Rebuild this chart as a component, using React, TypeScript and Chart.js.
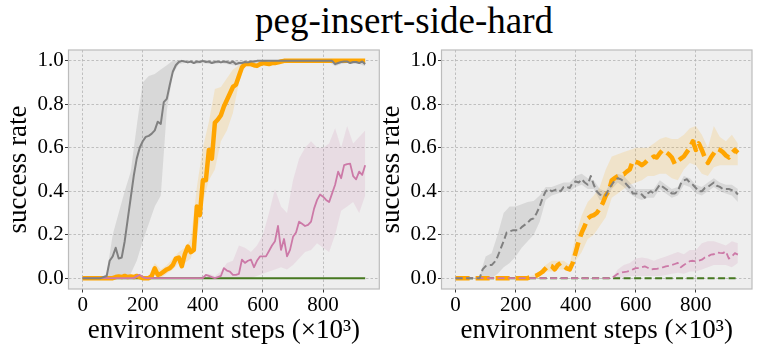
import React, { useEffect, useRef } from 'react';
import Chart from 'chart.js/auto';

// x positions (environment steps, x10^3)
const STEPS = [
  0, 10, 20, 30, 40, 50, 60, 70, 80, 90,
  100, 110, 120, 130, 140, 150, 160, 170, 180, 190,
  200, 210, 220, 230, 240, 250, 260, 270, 280, 290,
  300, 310, 320, 330, 340, 350, 360, 370, 380, 390,
  400, 410, 420, 430, 440, 450, 460, 470, 480, 490,
  500, 510, 520, 530, 540, 550, 560, 570, 580, 590,
  600, 610, 620, 630, 640, 650, 660, 670, 680, 690,
  700, 710, 720, 730, 740, 750, 760, 770, 780, 790,
  800, 810, 820, 830, 840, 850, 860, 870, 880, 890,
  900, 910, 920, 930, 940,
];
const BAND_STEPS = [
  0, 20, 40, 60, 80, 100, 120, 140, 160, 180,
  200, 220, 240, 260, 280, 300, 320, 340, 360, 380,
  400, 420, 440, 460, 480, 500, 520, 540, 560, 580,
  600, 620, 640, 660, 680, 700, 720, 740, 760, 780,
  800, 820, 840, 860, 880, 900, 920, 940,
];
const X_TICKS = [0, 200, 400, 600, 800];
const Y_TICKS = [0, 0.2, 0.4, 0.6, 0.8, 1.0];

// ---- left panel (solid) ----
const GRAY_L = [
  0, 0, 0, 0, 0, 0, 0, 0.005, 0.01, 0.08,
  0.10, 0.14, 0.09, 0.095, 0.17, 0.27, 0.37, 0.47, 0.55, 0.6,
  0.63, 0.65, 0.655, 0.665, 0.68, 0.72, 0.71, 0.81, 0.825, 0.89,
  0.95, 0.98, 0.995, 1.0, 0.997, 0.993, 0.997, 0.99, 0.997, 0.995,
  1.0, 0.995, 0.997, 0.99, 0.995, 0.997, 0.993, 0.997, 0.995, 0.99,
  0.997, 0.985, 0.99, 0.99, 0.995, 0.993, 0.997, 0.997, 1.0, 1.0,
  1, 1, 1, 1, 1, 1, 1, 1, 1, 1,
  1, 1, 1, 1, 1, 1, 1, 1, 1, 1,
  1, 1, 1, 1, 0.985, 0.99, 0.995, 0.997, 0.997, 0.99,
  0.995, 0.995, 0.99, 0.997, 0.985,
];
const ORANGE_L = [
  0, 0, 0, 0, 0, 0, 0, 0, 0, 0,
  0, 0.005, 0.008, 0.005, 0.01, 0.005, 0.008, 0.005, 0.01, 0.005,
  0, 0, 0, 0.01, 0.045, 0.015, 0.02, 0.03, 0.04, 0.046,
  0.06, 0.09, 0.095, 0.055, 0.11, 0.145, 0.12, 0.13, 0.33, 0.29,
  0.45, 0.45, 0.59, 0.55, 0.715, 0.73, 0.75, 0.79, 0.82, 0.85,
  0.88, 0.89, 0.93, 0.97, 0.985, 0.985, 0.985, 0.98, 0.977, 0.985,
  0.99, 0.988, 0.985, 0.99, 0.99, 0.993, 0.997, 1, 1, 1,
  1, 1, 1, 1, 1, 1, 1, 1, 1, 1,
  1, 1, 1, 1, 1, 1, 1, 1, 1, 1,
  1, 1, 1, 1, 1,
];
const PINK_L = [
  0, 0, 0, 0, 0, 0, 0, 0, 0, 0,
  0, 0, 0, 0, 0, 0, 0, 0, 0.008, 0.015,
  0.005, 0, 0, 0, 0, 0, 0, 0, 0, 0,
  0, 0, 0, 0, 0, 0, 0, 0, 0, 0,
  0, 0.015, 0.01, 0.005, 0, 0.005, 0.01, 0.046, 0.035, 0.03,
  0.015, 0.015, 0.02, 0.085, 0.07, 0.08, 0.085, 0.05, 0.08, 0.1,
  0.1, 0.1, 0.125, 0.15, 0.17, 0.24, 0.13, 0.18, 0.1, 0.13,
  0.19, 0.21, 0.26, 0.25, 0.24, 0.245, 0.26, 0.32, 0.36, 0.385,
  0.375, 0.36, 0.35, 0.39, 0.43, 0.49, 0.46, 0.52, 0.525, 0.527,
  0.47, 0.455, 0.49, 0.475, 0.52,
];
const GREEN_L = [
  0, 0, 0, 0, 0, 0, 0, 0, 0, 0,
  0, 0, 0, 0, 0, 0, 0, 0, 0, 0,
  0, 0, 0, 0, 0, 0, 0, 0, 0, 0,
  0, 0, 0, 0, 0, 0, 0, 0, 0, 0,
  0, 0, 0, 0, 0, 0, 0, 0, 0, 0,
  0, 0, 0, 0, 0, 0, 0, 0, 0, 0,
  0, 0, 0, 0, 0, 0, 0, 0, 0, 0,
  0, 0, 0, 0, 0, 0, 0, 0, 0, 0,
  0, 0, 0, 0, 0, 0, 0, 0, 0, 0,
  0, 0, 0, 0, 0,
];
const GRAY_L_LO = [
  0, 0, 0, 0, 0, 0, 0, 0, 0.02, 0.08,
  0.17, 0.25, 0.33, 0.38, 0.77, 0.94, 0.985, 0.99, 0.99, 0.985,
  0.99, 0.985, 0.985, 0.99, 0.985, 0.98, 0.98, 0.985, 0.985, 0.99,
  0.995, 0.995, 0.995, 0.995, 0.995, 0.995, 0.995, 0.995, 0.995, 0.995,
  0.995, 0.995, 0.975, 0.985, 0.99, 0.985, 0.985, 0.975,
];
const GRAY_L_HI = [
  0, 0, 0, 0, 0.02, 0.2, 0.3, 0.4, 0.49, 0.7,
  0.9, 0.93, 0.94, 0.96, 0.98, 1, 1, 1, 1, 1,
  1, 1, 1, 1, 1, 1, 1, 1, 1, 1,
  1, 1, 1, 1, 1, 1, 1, 1, 1, 1,
  1, 1, 1, 1, 1, 1, 1, 1,
];
const ORANGE_L_LO = [
  0, 0, 0, 0, 0, 0, 0, 0, 0, 0,
  0, 0, 0.02, 0, 0.02, 0.04, 0.07, 0.07, 0.09, 0.2,
  0.35, 0.45, 0.5, 0.63, 0.68, 0.76, 0.9, 0.975, 0.975, 0.965,
  0.98, 0.98, 0.98, 0.985, 0.99, 0.99, 0.99, 0.99, 0.99, 0.99,
  0.99, 0.99, 0.99, 0.99, 0.99, 0.99, 0.99, 0.99,
];
const ORANGE_L_HI = [
  0, 0, 0, 0, 0, 0.01, 0.015, 0.015, 0.015, 0.015,
  0.01, 0.01, 0.07, 0.04, 0.06, 0.09, 0.12, 0.14, 0.18, 0.42,
  0.6, 0.72, 0.87, 0.88, 0.92, 0.96, 0.98, 0.995, 0.995, 0.99,
  1, 1, 1, 1, 1, 1, 1, 1, 1, 1,
  1, 1, 1, 1, 1, 1, 1, 1,
];
const PINK_L_LO = [
  0, 0, 0, 0, 0, 0, 0, 0, 0, 0,
  0, 0, 0, 0, 0, 0, 0, 0, 0, 0,
  0, 0, 0, 0, 0, 0, 0, 0, 0, 0.01,
  0.02, 0.03, 0.04, 0.05, 0.04, 0.06, 0.09, 0.12, 0.13, 0.16,
  0.14, 0.12, 0.2, 0.31, 0.33, 0.35, 0.3, 0.38,
];
const PINK_L_HI = [
  0, 0, 0, 0, 0, 0, 0, 0, 0.005, 0.02,
  0.01, 0, 0, 0, 0, 0, 0, 0, 0, 0,
  0.01, 0.02, 0.01, 0.03, 0.07, 0.08, 0.15, 0.14, 0.12, 0.15,
  0.2, 0.3, 0.41, 0.33, 0.3, 0.45, 0.55, 0.6, 0.63, 0.6,
  0.6, 0.62, 0.69, 0.6, 0.7, 0.62, 0.65, 0.68,
];

// ---- right panel (dashed) ----
const GRAY_R = [
  0, 0, 0, 0, 0, 0, 0, 0, 0, 0.04,
  0.055, 0.06, 0.06, 0.075, 0.1, 0.135, 0.17, 0.21, 0.215, 0.22,
  0.22, 0.22, 0.235, 0.245, 0.255, 0.27, 0.275, 0.3, 0.33, 0.37,
  0.4, 0.41, 0.4, 0.405, 0.41, 0.4, 0.42, 0.42, 0.415, 0.44,
  0.445, 0.44, 0.455, 0.44, 0.43, 0.47, 0.43, 0.4, 0.385, 0.38,
  0.38, 0.41, 0.43, 0.45, 0.46, 0.455, 0.445, 0.43, 0.415, 0.39,
  0.39, 0.39, 0.385, 0.37, 0.39, 0.4, 0.39, 0.41, 0.43, 0.42,
  0.41, 0.4, 0.39, 0.39, 0.4, 0.435, 0.45, 0.455, 0.44, 0.43,
  0.415, 0.4, 0.4, 0.415, 0.42, 0.43, 0.44, 0.425, 0.42, 0.41,
  0.41, 0.41, 0.405, 0.4, 0.385,
];
const ORANGE_R = [
  0, 0, 0, 0, 0, 0, 0, 0, 0, 0,
  0, 0, 0, 0, 0, 0, 0, 0, 0, 0,
  0, 0, 0, 0, 0, 0.005, 0.008, 0.012, 0.02, 0.03,
  0.045, 0.06, 0.055, 0.04, 0.06, 0.07, 0.055, 0.045, 0.04, 0.07,
  0.12, 0.17, 0.21, 0.24, 0.275, 0.285, 0.29, 0.3, 0.32, 0.345,
  0.38, 0.4, 0.45, 0.46, 0.47, 0.475, 0.478, 0.49, 0.5, 0.54,
  0.535, 0.53, 0.52, 0.53, 0.545, 0.55, 0.56, 0.555, 0.575, 0.59,
  0.58, 0.57, 0.555, 0.525, 0.54, 0.55, 0.56, 0.58, 0.6, 0.63,
  0.59, 0.62, 0.59, 0.555, 0.53, 0.555, 0.575, 0.595, 0.59, 0.58,
  0.565, 0.555, 0.575, 0.59, 0.577,
];
const PINK_R = [
  0, 0, 0, 0, 0, 0, 0, 0, 0, 0,
  0, 0, 0, 0, 0, 0, 0, 0, 0, 0,
  0, 0, 0, 0, 0, 0, 0, 0, 0, 0,
  0, 0, 0, 0, 0, 0, 0, 0, 0, 0,
  0, 0, 0, 0, 0, 0, 0, 0, 0, 0,
  0, 0, 0, 0.01, 0.02, 0.025, 0.028, 0.03, 0.033, 0.04,
  0.046, 0.046, 0.05, 0.054, 0.048, 0.04, 0.042, 0.043, 0.046, 0.05,
  0.054, 0.056, 0.06, 0.065, 0.07, 0.05, 0.06, 0.07, 0.078, 0.08,
  0.077, 0.08, 0.085, 0.095, 0.1, 0.108, 0.11, 0.118, 0.116, 0.115,
  0.123, 0.09, 0.1, 0.115, 0.108,
];
const GREEN_R = [
  0, 0, 0, 0, 0, 0, 0, 0, 0, 0,
  0, 0, 0, 0, 0, 0, 0, 0, 0, 0,
  0, 0, 0, 0, 0, 0, 0, 0, 0, 0,
  0, 0, 0, 0, 0, 0, 0, 0, 0, 0,
  0, 0, 0, 0, 0, 0, 0, 0, 0, 0,
  0, 0, 0, 0, 0, 0, 0, 0, 0, 0,
  0, 0, 0, 0, 0, 0, 0, 0, 0, 0,
  0, 0, 0, 0, 0, 0, 0, 0, 0, 0,
  0, 0, 0, 0, 0, 0, 0, 0, 0, 0,
  0, 0, 0, 0, 0,
];
const GRAY_R_LO = [
  0, 0, 0, 0, 0, 0.01, 0, 0.02, 0.05, 0.07,
  0.1, 0.14, 0.17, 0.2, 0.26, 0.36, 0.38, 0.39, 0.4, 0.4,
  0.42, 0.43, 0.41, 0.41, 0.36, 0.36, 0.41, 0.44, 0.42, 0.39,
  0.37, 0.36, 0.37, 0.37, 0.41, 0.39, 0.37, 0.38, 0.43, 0.42,
  0.39, 0.38, 0.4, 0.42, 0.4, 0.39, 0.38, 0.35,
];
const GRAY_R_HI = [
  0, 0, 0, 0, 0.01, 0.1, 0.115, 0.2, 0.3, 0.33,
  0.33, 0.34, 0.35, 0.355, 0.38, 0.42, 0.42, 0.43, 0.44, 0.44,
  0.47, 0.48, 0.46, 0.45, 0.41, 0.4, 0.45, 0.48, 0.47, 0.44,
  0.41, 0.41, 0.41, 0.41, 0.45, 0.43, 0.41, 0.42, 0.47, 0.46,
  0.43, 0.42, 0.44, 0.46, 0.44, 0.43, 0.43, 0.41,
];
const ORANGE_R_LO = [
  0, 0, 0, 0, 0, 0, 0, 0, 0, 0,
  0, 0, 0, 0.005, 0.01, 0.03, 0.03, 0.04, 0.04, 0.03,
  0.08, 0.12, 0.18, 0.2, 0.24, 0.28, 0.37, 0.39, 0.41, 0.43,
  0.44, 0.45, 0.47, 0.47, 0.48, 0.48, 0.46, 0.45, 0.5, 0.53,
  0.52, 0.48, 0.47, 0.51, 0.52, 0.52, 0.52, 0.52,
];
const ORANGE_R_HI = [
  0, 0, 0, 0, 0, 0, 0, 0, 0, 0.005,
  0.005, 0.005, 0.005, 0.015, 0.03, 0.06, 0.08, 0.08, 0.08, 0.06,
  0.2, 0.29, 0.35, 0.38, 0.42, 0.5, 0.56, 0.57, 0.58, 0.59,
  0.6, 0.6, 0.6, 0.62, 0.64, 0.65, 0.64, 0.64, 0.66, 0.69,
  0.7, 0.66, 0.6, 0.7, 0.65, 0.63, 0.66, 0.62,
];
const PINK_R_LO = [
  0, 0, 0, 0, 0, 0, 0, 0, 0, 0,
  0, 0, 0, 0, 0, 0, 0, 0, 0, 0,
  0, 0, 0, 0, 0, 0, 0, 0, 0.005, 0.01,
  0.01, 0.01, 0.01, 0.01, 0.01, 0.015, 0.02, 0.025, 0.02, 0.03,
  0.03, 0.04, 0.05, 0.06, 0.06, 0.06, 0.05, 0.07,
];
const PINK_R_HI = [
  0, 0, 0, 0, 0, 0, 0, 0, 0, 0,
  0, 0, 0, 0, 0, 0, 0, 0, 0, 0,
  0, 0, 0, 0, 0, 0, 0, 0.04, 0.06, 0.07,
  0.09, 0.095, 0.09, 0.08, 0.09, 0.1, 0.11, 0.12, 0.11, 0.13,
  0.13, 0.16, 0.17, 0.17, 0.16, 0.15, 0.17, 0.16,
];

const TITLE = 'peg-insert-side-hard';
const X_LABEL = 'environment steps (×10³)';
const Y_LABEL = 'success rate';

const SERIF = "'Liberation Serif', 'Times New Roman', serif";
const GRAY = '#808080';
const ORANGE = '#FFA500';
const PINK = '#CC79A7';
const GREEN = '#467821';
const GRAY_BAND = 'rgba(128,128,128,0.2)';
const ORANGE_BAND = 'rgba(255,165,0,0.15)';
const PINK_BAND = 'rgba(204,121,167,0.15)';

const framePlugin = {
  id: 'frame',
  beforeDraw(chart: any) {
    const { ctx, chartArea: a } = chart;
    ctx.save();
    ctx.fillStyle = '#eeeeee';
    ctx.fillRect(a.left, a.top, a.right - a.left, a.bottom - a.top);
    ctx.restore();
  },
  afterDatasetsDraw(chart: any) {
    const { ctx, chartArea: a } = chart;
    ctx.save();
    ctx.strokeStyle = '#bcbcbc';
    ctx.lineWidth = 1.2;
    ctx.strokeRect(a.left, a.top, a.right - a.left, a.bottom - a.top);
    ctx.restore();
  },
};

function lineDs(ys: number[], color: string, width: number, dash: number[], order: number) {
  return {
    data: STEPS.map((x, i) => ({ x, y: ys[i] })),
    borderColor: color,
    borderWidth: width,
    borderDash: dash,
    borderJoinStyle: 'round',
    borderCapStyle: 'butt',
    pointRadius: 0,
    fill: false,
    tension: 0,
    order,
  };
}

function bandDs(lo: number[], hi: number[], color: string): any[] {
  return [
    {
      data: BAND_STEPS.map((x, i) => ({ x, y: hi[i] })),
      borderColor: 'rgba(0,0,0,0)',
      borderWidth: 0,
      pointRadius: 0,
      backgroundColor: color,
      fill: '+1',
      tension: 0,
      order: 20,
    },
    {
      data: BAND_STEPS.map((x, i) => ({ x, y: lo[i] })),
      borderColor: 'rgba(0,0,0,0)',
      borderWidth: 0,
      pointRadius: 0,
      fill: false,
      tension: 0,
      order: 21,
    },
  ];
}

function buildConfig(datasets: any[], padRight: number): any {
  const tickFont = { family: SERIF, size: 21 };
  const titleFont = { family: SERIF, size: 27 };
  return {
    type: 'line',
    data: { datasets },
    plugins: [framePlugin],
    options: {
      responsive: false,
      animation: false,
      events: [],
      layout: { padding: { top: 50, right: padRight, bottom: 0, left: 0 } },
      plugins: {
        legend: { display: false },
        tooltip: { enabled: false },
        filler: { drawTime: 'beforeDatasetsDraw', propagate: false },
      },
      scales: {
        x: {
          type: 'linear',
          min: -47,
          max: 987,
          afterBuildTicks: (s: any) => { s.ticks = X_TICKS.map((v) => ({ value: v })); },
          afterFit: (s: any) => { s.height = 66; },
          ticks: {
            autoSkip: false,
            maxRotation: 0,
            minRotation: 0,
            padding: 0,
            color: '#000',
            font: tickFont,
            callback: (v: any) => String(v),
          },
          grid: {
            color: '#b2b2b2',
            lineWidth: 0.8,
            drawTicks: true,
            tickLength: 3.5,
            tickColor: '#222',
            tickWidth: 0.9,
          },
          border: { display: false, dash: [2.5, 2] },
          title: {
            display: true,
            text: X_LABEL,
            color: '#000',
            font: titleFont,
            padding: { top: 0, bottom: 8 },
          },
        },
        y: {
          type: 'linear',
          min: -0.05,
          max: 1.05,
          afterBuildTicks: (s: any) => { s.ticks = Y_TICKS.map((v) => ({ value: v })); },
          afterFit: (s: any) => { s.width = 68.5; },
          ticks: {
            autoSkip: false,
            padding: 1.3,
            color: '#000',
            font: tickFont,
            callback: (v: any) => Number(v).toFixed(1),
          },
          grid: {
            color: '#b2b2b2',
            lineWidth: 0.8,
            drawTicks: true,
            tickLength: 3.5,
            tickColor: '#222',
            tickWidth: 0.9,
          },
          border: { display: false, dash: [2.5, 2] },
          title: {
            display: true,
            text: Y_LABEL,
            color: '#000',
            font: titleFont,
            padding: { top: 3, bottom: 0 },
          },
        },
      },
    },
  };
}

export default function App() {
  const leftRef = useRef<HTMLCanvasElement>(null);
  const rightRef = useRef<HTMLCanvasElement>(null);

  useEffect(() => {
    const leftSets = [
      ...bandDs(GRAY_L_LO, GRAY_L_HI, GRAY_BAND),
      ...bandDs(ORANGE_L_LO, ORANGE_L_HI, ORANGE_BAND),
      ...bandDs(PINK_L_LO, PINK_L_HI, PINK_BAND),
      lineDs(GREEN_L, GREEN, 2, [], 4),
      lineDs(ORANGE_L, ORANGE, 4.5, [], 3),
      lineDs(PINK_L, PINK, 1.8, [], 2),
      lineDs(GRAY_L, GRAY, 2, [], 1),
    ];
    const rightSets = [
      ...bandDs(GRAY_R_LO, GRAY_R_HI, GRAY_BAND),
      ...bandDs(ORANGE_R_LO, ORANGE_R_HI, ORANGE_BAND),
      ...bandDs(PINK_R_LO, PINK_R_HI, PINK_BAND),
      lineDs(GREEN_R, GREEN, 2, [7, 3.5], 4),
      lineDs(ORANGE_R, ORANGE, 4.5, [14, 6], 3),
      lineDs(PINK_R, PINK, 1.8, [7, 3.5], 2),
      lineDs(GRAY_R, GRAY, 2, [7, 3.5], 1),
    ];
    const c1 = new Chart(leftRef.current as HTMLCanvasElement, buildConfig(leftSets, 1.7));
    const c2 = new Chart(rightRef.current as HTMLCanvasElement, buildConfig(rightSets, 9));
    return () => {
      c1.destroy();
      c2.destroy();
    };
  }, []);

  return (
    <div
      style={{
        position: 'absolute',
        left: 0,
        top: 0,
        width: 761,
        height: 355,
        background: '#fff',
        overflow: 'hidden',
      }}
    >
      <div
        style={{
          position: 'absolute',
          left: 0,
          top: 1,
          width: 808,
          textAlign: 'center',
          fontFamily: SERIF,
          fontSize: 37,
          lineHeight: '40px',
          color: '#000',
          whiteSpace: 'nowrap',
        }}
      >
        {TITLE}
      </div>
      <canvas ref={leftRef} width={381} height={355} style={{ position: 'absolute', left: 0, top: 0 }} />
      <canvas ref={rightRef} width={388} height={355} style={{ position: 'absolute', left: 373, top: 0 }} />
    </div>
  );
}
